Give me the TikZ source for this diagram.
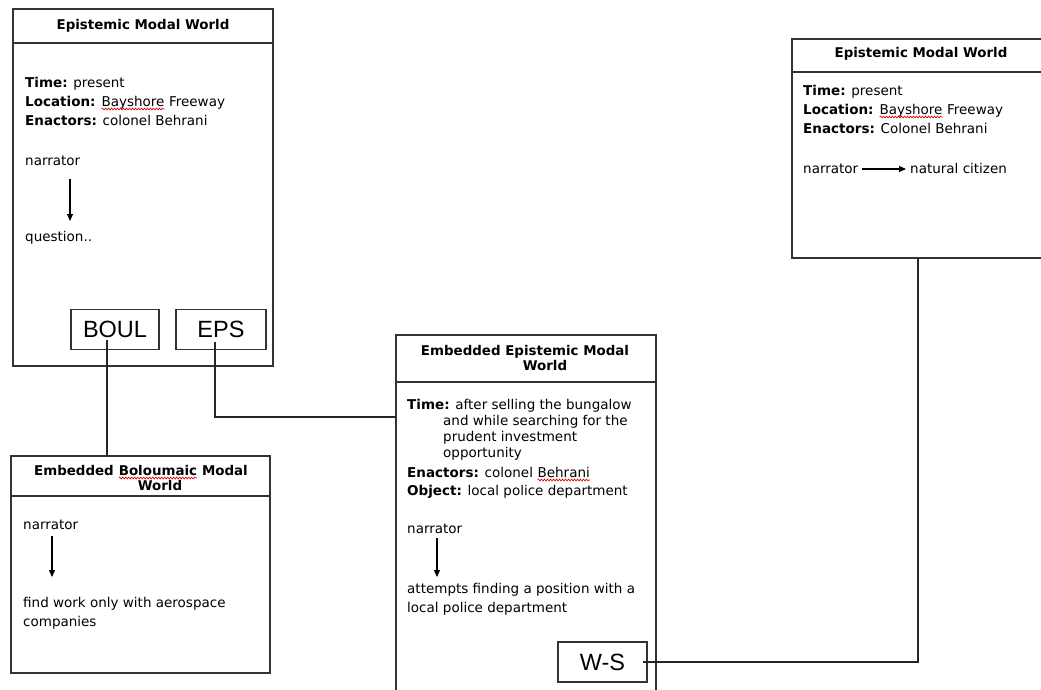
\documentclass[tikz,border=0pt]{standalone}
\usepackage{fontspec}
\setmainfont{DejaVu Sans}
\newfontfamily\tagfont{Liberation Sans}
\usetikzlibrary{arrows.meta,decorations.pathmorphing}
\newcommand\squig[1]{\tikz[baseline=(sqw.base)]{\node[inner sep=0pt,outer sep=0pt,anchor=base] (sqw) {#1};\draw[red!85!black,line width=0.6pt,decorate,decoration={snake,amplitude=1pt,segment length=3pt}] ([yshift=-3pt]sqw.base west) -- ([yshift=-3pt]sqw.base east);}}
\begin{document}
\begin{tikzpicture}[x=1pt,y=-1pt,
  worldbox/.style={draw=black!80,line width=1.3pt,inner sep=0pt,outer sep=0pt,anchor=north west},
  headline/.style={draw=black!80,line width=1.3pt},
  tagbox/.style={draw=black!80,line width=1.1pt,inner sep=0pt,outer sep=0pt,minimum height=40pt,font=\tagfont\fontsize{23.5}{26}\selectfont},
  txt/.style={anchor=base west,inner sep=0pt,font=\fontsize{13.5}{16}\selectfont},
  head/.style={anchor=base,inner sep=0pt,font=\bfseries\fontsize{13.4}{16}\selectfont},
  link/.style={draw=black!85,line width=1.2pt},
  flow/.style={draw=black,line width=1.2pt,-{Triangle[length=7pt,width=6pt]}}]
\useasboundingbox (0,0) rectangle (1041,689);

% ---------- top-left world ----------
\node[worldbox,minimum width=260pt,minimum height=357pt] (w1) at (13,9) {};
\draw[headline] ([yshift=-34pt]w1.north west) -- ([yshift=-34pt]w1.north east);
\node[head] (h1) at (143,29) {Epistemic Modal World};
\node[txt] (w1t) at (25,87) {\textbf{Time:} present};
\node[txt] (w1l) at (25,106) {\textbf{Location:} \squig{Bayshore} Freeway};
\node[txt] (w1e) at (25,125) {\textbf{Enactors:} colonel Behrani};
\node[txt] (w1n) at (25,165) {narrator};
\coordinate (w1as) at (70,179);
\coordinate (w1ae) at (70,221);
\draw[flow] (w1as) -- (w1ae);
\node[txt] (w1q) at (25,241) {question..};
\node[tagbox,minimum width=88pt] (boul) at (115,329.5) {BOUL};
\node[tagbox,minimum width=90pt] (eps) at (221,329.5) {EPS};

% ---------- bottom-left world ----------
\node[worldbox,minimum width=259pt,minimum height=217pt] (w2) at (11,456) {};
\draw[headline] ([yshift=-40pt]w2.north west) -- ([yshift=-40pt]w2.north east);
\node[head] (h2a) at (141,475) {Embedded \squig{Boloumaic} Modal};
\node[head] (h2b) at (160,490) {World};
\node[txt] (w2n) at (23,529) {narrator};
\coordinate (w2as) at (52,536);
\coordinate (w2ae) at (52,577);
\draw[flow] (w2as) -- (w2ae);
\node[txt] (w2f) at (23,607) {find work only with aerospace};
\node[txt] (w2c) at (23,626) {companies};

% ---------- middle world ----------
\node[worldbox,minimum width=260pt,minimum height=400pt] (w3) at (396,335) {};
\draw[headline] ([yshift=-47pt]w3.north west) -- ([yshift=-47pt]w3.north east);
\node[head] (h3a) at (525,355) {Embedded Epistemic Modal};
\node[head] (h3b) at (545,370) {World};
\node[txt] (w3t) at (407,409) {\textbf{Time:} after selling the bungalow};
\node[txt] (w3t2) at (443,425) {and while searching for the};
\node[txt] (w3t3) at (443,441) {prudent investment};
\node[txt] (w3t4) at (443,457) {opportunity};
\node[txt] (w3e) at (407,477) {\textbf{Enactors:} colonel \squig{Behrani}};
\node[txt] (w3o) at (407,495) {\textbf{Object:} local police department};
\node[txt] (w3n) at (407,533) {narrator};
\coordinate (w3as) at (437,538);
\coordinate (w3ae) at (437,577);
\draw[flow] (w3as) -- (w3ae);
\node[txt] (w3a) at (407,593) {attempts finding a position with a};
\node[txt] (w3b) at (407,612) {local police department};
\node[tagbox,minimum width=89pt] (ws) at (602.5,662) {W-S};

% ---------- right world ----------
\node[worldbox,minimum width=262pt,minimum height=219pt] (w4) at (792,39) {};
\draw[headline] ([yshift=-33pt]w4.north west) -- ([yshift=-33pt]w4.north east);
\node[head] (h4) at (921,57) {Epistemic Modal World};
\node[txt] (w4t) at (803,95) {\textbf{Time:} present};
\node[txt] (w4l) at (803,114) {\textbf{Location:} \squig{Bayshore} Freeway};
\node[txt] (w4e) at (803,133) {\textbf{Enactors:} Colonel Behrani};
\node[txt] (w4n) at (803,173) {narrator};
\node[txt] (w4c) at (910,173) {natural citizen};
\coordinate (w4as) at (862,169);
\coordinate (w4ae) at (906,169);
\draw[flow] (w4as) -- (w4ae);

% ---------- connectors ----------
\coordinate (boulout) at (107,340);
\draw[link] (boulout) -- (boulout |- w2.north);
\coordinate (epsout) at (215,342);
\coordinate (epsin) at (396,417);
\draw[link] (epsout) |- (epsin);
\coordinate (wsout) at (643,662);
\coordinate (w4in) at (918,258);
\draw[link] (wsout) -| (w4in);
\end{tikzpicture}
\end{document}
